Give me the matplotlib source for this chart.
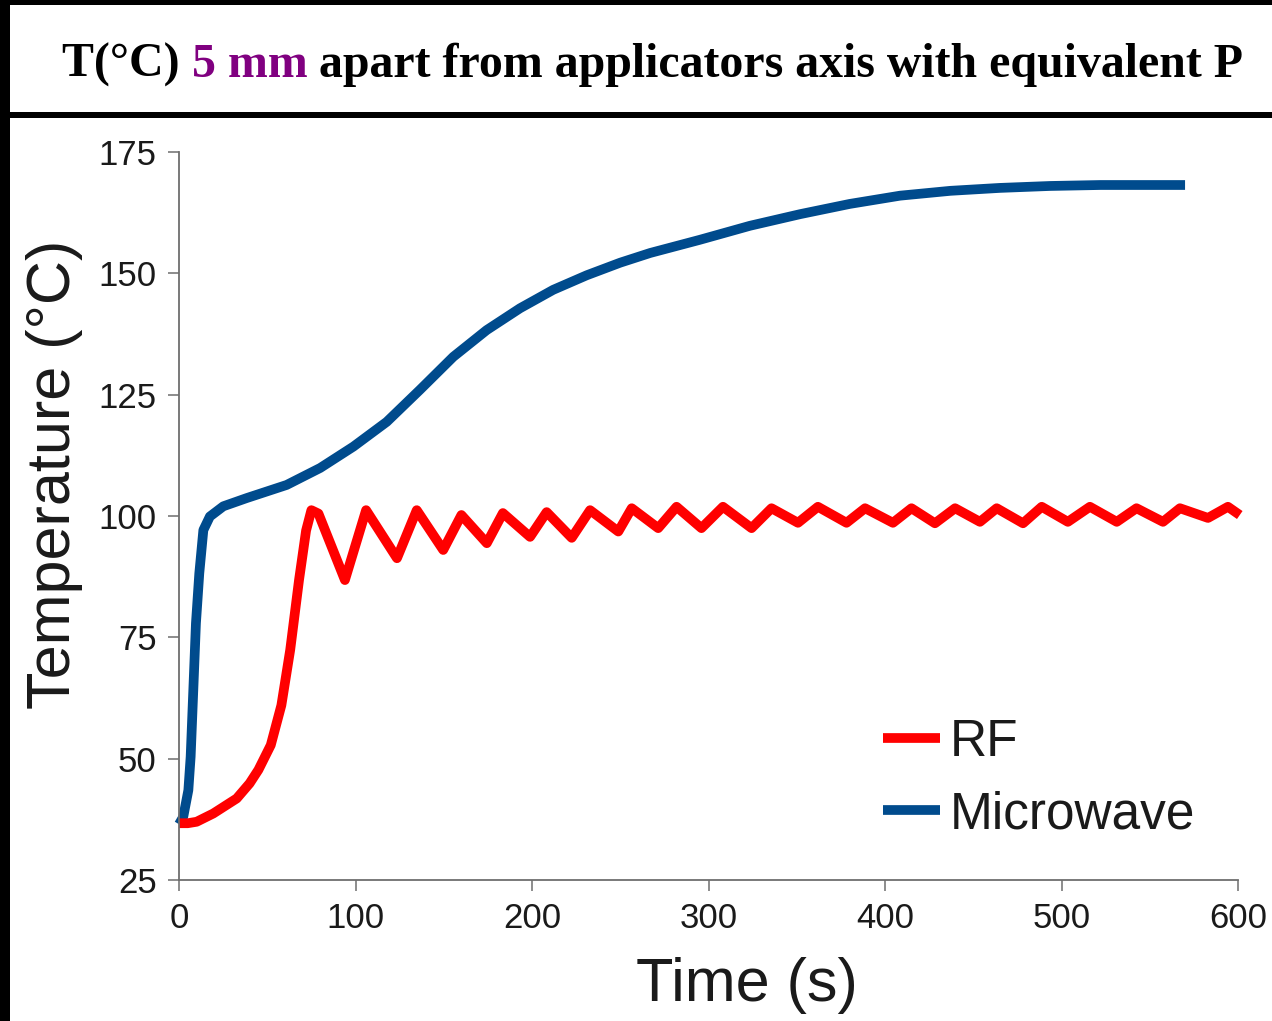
import matplotlib
matplotlib.use("Agg")
import matplotlib.pyplot as plt
from matplotlib.patches import Rectangle

# ---------------- data ----------------
rf_t = [0, 5, 10, 19.4, 32.7, 40, 45, 52, 58, 63,
        68, 72, 75, 79, 94, 106, 123.5, 134.7, 149.7, 160,
        174.4, 183.5, 198.9, 208.3, 222.5, 232.9, 248.9, 256.5, 271.5, 281.9,
        296, 308.2, 324.4, 335.7, 350.7, 362, 378.2, 388.7, 404.5, 415,
        428.3, 439.7, 453.8, 463.3, 478.2, 488.8, 503.6, 516.1, 531.3, 542.5,
        557.5, 567.1, 583, 594.3, 601]
rf_T = [36.7, 36.7, 37.0, 38.7, 41.8, 44.9, 47.7, 52.8, 61, 72.4,
        86.8, 97, 101.2, 100.5, 86.8, 101.2, 91.3, 101.2, 93, 100.2,
        94.4, 100.6, 95.7, 100.8, 95.5, 101.2, 96.8, 101.6, 97.5, 101.9,
        97.5, 101.9, 97.5, 101.6, 98.6, 101.9, 98.6, 101.6, 98.6, 101.6,
        98.5, 101.6, 98.8, 101.6, 98.5, 101.9, 98.8, 101.9, 98.8, 101.6,
        98.8, 101.6, 99.6, 101.9, 100.2]

mw_t = [0, 2.4, 5.3, 6.6, 8.1, 9.6, 11.5, 13.8, 17.5, 25.1,
        38.4, 61, 80, 98.8, 117.7, 136.5, 155.4, 174.3, 193.2, 212,
        231, 250, 267, 295, 323.5, 352, 380, 408.5, 437, 465,
        493.5, 522, 570]
mw_T = [36.5, 38, 43.5, 50.4, 64.1, 77.9, 88.2, 97.1, 99.9, 102,
        103.7, 106.4, 109.9, 114.3, 119.4, 126, 132.8, 138.3, 142.8, 146.6,
        149.6, 152.2, 154.2, 156.9, 159.8, 162.2, 164.3, 166, 167, 167.6,
        168, 168.2, 168.2]

x_ticks = [0, 100, 200, 300, 400, 500, 600]
y_ticks = [25, 50, 75, 100, 125, 150, 175]
series_labels = ["RF", "Microwave"]

title_parts = [("T(°C) ", "black"), ("5 mm", "#800080"),
               (" apart from applicators axis with equivalent P", "black")]

# ---------------- figure ----------------
W, H = 1272, 1021
fig = plt.figure(figsize=(W / 100, H / 100), dpi=100, facecolor="white")

def px_rect(x0, y0, x1, y1, color):
    fig.patches.append(Rectangle((x0 / W, 1 - y1 / H), (x1 - x0) / W, (y1 - y0) / H,
                                 transform=fig.transFigure, facecolor=color,
                                 edgecolor="none", zorder=0))

px_rect(0, 0, 10, H, "black")
px_rect(0, 0, W, 5, "black")
px_rect(0, 112, W, 118, "black")

ax = fig.add_axes([179 / W, 1 - 880 / H, (1238 - 179) / W, (880 - 152) / H])
ax.set_xlim(0, 600)
ax.set_ylim(25, 175)

mw_line, = ax.plot(mw_t, mw_T, color="#004B8D", lw=7, solid_capstyle="butt",
                   solid_joinstyle="round", clip_on=False)
rf_line, = ax.plot(rf_t, rf_T, color="#FF0000", lw=7, solid_capstyle="butt",
                   solid_joinstyle="round", clip_on=False)

for s in ["top", "right"]:
    ax.spines[s].set_visible(False)
for s in ["left", "bottom"]:
    ax.spines[s].set_color("#6e6e6e")
    ax.spines[s].set_linewidth(1.3)

ax.set_xticks(x_ticks)
ax.set_yticks(y_ticks)
ax.tick_params(axis="both", direction="out", length=8, width=1.1, color="#6e6e6e",
               labelsize=25, labelcolor="#1a1a1a", pad=8)
for lab in ax.get_xticklabels() + ax.get_yticklabels():
    lab.set_fontfamily("Liberation Sans")

fig.text(55 / W, 1 - 474 / H, "Temperature (°C)", rotation=90, ha="center", va="center",
         fontsize=44, family="Liberation Sans", color="#1a1a1a")
fig.text(747 / W, 1 - 985 / H, "Time (s)", ha="center", va="center",
         fontsize=44, family="Liberation Sans", color="#1a1a1a")

leg = fig.legend([rf_line, mw_line], series_labels, loc="upper left",
                 bbox_to_anchor=(883 / W, 1 - 718 / H), frameon=False,
                 prop={"family": "Liberation Sans", "size": 37},
                 handlelength=1.1, handletextpad=0.2, labelspacing=0.45,
                 borderaxespad=0, borderpad=0)
for t in leg.get_texts():
    t.set_color("#1a1a1a")

# title made of coloured pieces
fig.canvas.draw()
renderer = fig.canvas.get_renderer()
x = 62
for txt, col in title_parts:
    t = fig.text(x / W, 1 - 65 / H, txt, ha="left", va="center", fontsize=34.5,
                 family="Liberation Serif", weight="bold", color=col)
    bb = t.get_window_extent(renderer=renderer)
    x += bb.width

fig.savefig("out.png", dpi=100, facecolor="white")
